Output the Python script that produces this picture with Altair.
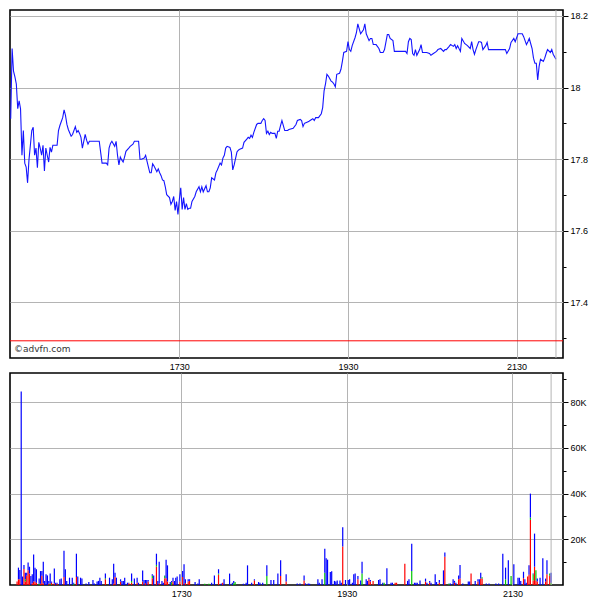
import altair as alt
import pandas as pd

# ---- price series (minutes after 15:30, price) ----
price_minute = [0,1,2,3,4,5,6,7,8,9,10,11,12,13,15,16,17,18,19,20,21,22,23,24,25,26,27,28,29,30,33,34,35,37,38,39,40,41,43,44,46,47,48,49,50,51,53,54,55,56,63,65,68,69,70,71,72,74,75,76,77,78,79,80,81,82,84,85,87,88,91,92,93,95,96,98,99,100,101,102,104,105,106,107,108,109,110,111,113,114,115,116,117,118,119,120,121,122,123,124,125,126,127,128,129,131,132,134,135,136,137,139,140,141,142,143,145,146,147,149,150,151,152,153,154,156,157,158,159,161,162,163,165,166,168,169,170,171,172,173,175,176,178,179,180,181,182,183,184,185,186,188,189,190,191,192,193,195,197,198,201,203,204,206,207,208,209,210,212,213,215,216,217,219,221,222,223,224,225,226,228,229,230,231,232,234,235,236,237,239,240,241,242,243,245,246,247,248,249,251,252,253,255,256,257,258,260,262,263,265,266,268,269,270,272,273,281,282,283,284,285,286,287,288,289,291,292,293,296,298,299,300,303,304,306,308,309,310,312,313,315,316,317,318,320,321,323,325,327,328,329,330,331,333,334,335,336,338,339,340,352,353,355,356,358,359,361,364,365,367,368,369,371,372,373,374,375,376,377,379,380,381,382,384,385,386,388]
price_value = [17.913,18.109,18.046,18.030,18.010,17.941,17.963,17.941,17.811,17.880,17.789,17.778,17.734,17.798,17.880,17.889,17.811,17.831,17.776,17.847,17.831,17.811,17.839,17.767,17.831,17.811,17.792,17.833,17.820,17.839,17.839,17.880,17.894,17.916,17.938,17.922,17.897,17.883,17.864,17.869,17.891,17.875,17.880,17.872,17.861,17.831,17.869,17.853,17.842,17.850,17.850,17.789,17.789,17.784,17.831,17.844,17.850,17.836,17.850,17.811,17.784,17.806,17.798,17.792,17.806,17.822,17.831,17.836,17.842,17.850,17.850,17.800,17.800,17.803,17.811,17.778,17.762,17.762,17.787,17.781,17.765,17.773,17.762,17.754,17.742,17.740,17.723,17.701,17.693,17.674,17.682,17.696,17.657,17.682,17.646,17.687,17.720,17.660,17.693,17.660,17.676,17.660,17.663,17.663,17.682,17.696,17.709,17.723,17.709,17.723,17.709,17.726,17.709,17.709,17.720,17.748,17.742,17.762,17.770,17.789,17.784,17.803,17.811,17.831,17.836,17.833,17.820,17.770,17.784,17.820,17.825,17.828,17.831,17.847,17.856,17.861,17.858,17.867,17.861,17.875,17.897,17.900,17.900,17.908,17.913,17.908,17.872,17.878,17.869,17.875,17.872,17.872,17.858,17.878,17.878,17.894,17.908,17.880,17.880,17.883,17.886,17.897,17.908,17.911,17.908,17.891,17.900,17.902,17.905,17.908,17.913,17.908,17.916,17.916,17.927,17.944,17.991,18.010,18.037,18.032,18.018,18.015,18.010,18.002,18.037,18.040,18.051,18.073,18.098,18.101,18.128,18.106,18.101,18.117,18.139,18.153,18.178,18.164,18.150,18.161,18.178,18.150,18.131,18.137,18.137,18.120,18.120,18.109,18.098,18.098,18.106,18.148,18.148,18.137,18.131,18.101,18.101,18.095,18.128,18.137,18.134,18.095,18.090,18.106,18.090,18.106,18.120,18.098,18.098,18.095,18.090,18.093,18.101,18.106,18.109,18.101,18.106,18.106,18.115,18.120,18.115,18.120,18.109,18.117,18.101,18.137,18.123,18.117,18.109,18.128,18.106,18.093,18.106,18.128,18.128,18.126,18.106,18.117,18.126,18.106,18.106,18.095,18.109,18.126,18.137,18.128,18.150,18.150,18.142,18.120,18.128,18.137,18.109,18.082,18.068,18.068,18.021,18.059,18.079,18.073,18.082,18.095,18.106,18.098,18.106,18.093,18.079]

prev_close = [17.293]
session_end_minute = [388]

# ---- volume bars (minutes after 15:30): total, sell (red), unknown (green) ----
vol_minute = [1,2,3,4,5,6,7,8,9,10,11,12,13,14,15,17,18,19,20,21,22,23,24,25,26,28,29,30,32,33,35,36,37,39,41,42,44,45,47,48,51,53,56,57,59,60,61,62,65,68,70,71,72,73,76,77,78,79,81,82,84,86,88,89,92,93,94,95,96,99,100,102,103,104,106,107,108,109,110,112,113,114,115,116,117,119,121,122,123,125,126,130,132,133,137,140,142,144,147,149,150,151,155,157,158,159,165,167,168,171,173,176,177,179,182,185,187,190,192,196,204,206,209,210,212,213,219,220,222,224,225,226,228,229,231,232,233,235,236,237,239,241,242,244,245,246,248,250,251,254,255,256,257,259,263,264,266,267,269,272,273,275,276,282,284,285,287,289,290,291,293,297,298,300,301,304,305,307,310,311,314,315,317,318,319,321,322,324,328,329,330,333,335,336,337,338,341,343,348,350,353,355,357,359,361,364,365,366,368,369,370,371,372,373,375,376,377,378,380,382,384,385,387,388]
vol_total = [1500,7600,6600,84700,3700,8800,5400,5400,9800,8000,3900,4700,13400,7600,6900,2900,6100,6100,10200,1800,4700,4200,1800,5000,1500,7200,1000,1000,2500,2800,15000,6900,1800,3200,3200,1000,13700,3700,3200,2800,700,1300,2200,700,1500,1800,3200,1800,5000,3200,2500,9300,5400,3200,2500,1800,1800,3200,1000,1000,5000,2900,3200,1000,6300,2200,2200,2200,2200,4700,4200,13700,1800,10200,1800,1000,4200,11100,8600,1300,1800,3200,1800,3200,3700,4700,6100,9100,2500,2500,2500,1300,700,2500,600,600,1000,4200,6900,700,1000,2500,5000,1000,1800,1300,600,1000,8600,1000,2500,1300,1000,1000,8600,2200,2200,5000,10800,4700,700,700,4200,700,700,600,2500,1000,2500,15900,11700,11100,5700,6000,1800,1500,2000,2000,1000,25300,2200,2200,2500,1000,4700,5000,3900,2000,10200,2500,1800,3200,2200,1800,2200,2500,1000,1000,7300,1000,1000,1000,1000,9300,1800,2500,18100,1000,1000,1000,2000,2800,1000,1800,1000,4700,1300,2200,6400,14200,700,700,2500,1800,1000,4200,8800,700,1500,1500,5000,1800,2500,2500,5400,2900,700,700,700,700,13700,7600,10800,600,9100,3200,3200,1800,5800,2500,1000,3700,8600,40000,5000,22500,3700,2800,3200,11700,2800,10800,5000,5400]
vol_red = [1500,2500,2500,0,0,7000,1500,4000,6500,5000,0,800,1500,1500,1000,0,500,4000,800,0,0,0,500,0,1000,700,0,500,0,0,3500,0,0,0,0,0,3500,0,0,0,0,0,0,0,0,0,0,0,2500,0,0,500,3500,0,1500,0,0,0,0,800,1000,0,1000,0,1500,0,800,0,1500,3000,0,8000,0,700,0,0,3000,3000,1500,0,0,1500,0,0,0,1500,3500,0,800,1500,1800,0,0,0,0,0,0,0,4500,0,1000,0,0,0,0,0,0,0,0,0,2000,0,0,0,0,0,0,0,3900,1500,0,0,2000,0,0,0,0,0,0,0,0,0,0,0,0,0,0,0,0,16800,0,0,0,0,0,0,2500,0,0,0,0,2500,1500,1800,0,0,0,0,0,0,0,1000,1000,9300,0,0,0,0,0,0,0,1500,0,1000,0,0,0,1000,0,12400,0,0,0,1000,0,2500,2800,0,0,0,5000,0,1500,0,2900,2900,0,0,0,0,0,0,0,0,0,0,0,0,3000,0,0,3700,4500,28500,2000,8000,2000,1500,0,0,1500,4700,4000,0]
vol_green = [0,0,0,0,0,0,1000,0,0,0,0,0,0,0,0,500,0,0,0,0,0,0,0,500,0,0,0,0,0,0,0,0,0,0,0,600,0,0,0,0,0,0,0,0,0,0,0,0,500,0,0,0,0,0,0,0,0,0,0,0,800,0,0,0,0,0,0,0,0,1000,0,800,0,0,0,0,1000,0,0,0,1200,0,0,0,0,0,0,0,0,0,0,0,0,0,600,600,0,0,500,0,0,0,0,0,800,1300,0,0,0,0,0,0,0,0,3900,0,0,0,0,0,0,0,0,0,0,0,0,0,0,5400,0,0,0,0,0,0,0,0,0,0,0,0,0,0,0,0,0,0,5000,0,0,0,0,0,0,0,0,1000,0,0,0,0,0,0,0,0,6100,0,0,0,0,0,0,0,0,0,0,0,0,0,500,0,0,0,0,0,0,0,0,0,0,0,0,0,0,500,0,0,0,0,0,2500,0,3900,0,0,0,0,0,0,0,0,0,1000,2700,0,4500,0,0,0,0,0,1000,1000,0]

# ---- axes ----
time_tick_minutes = [120, 240, 360]
time_tick_labels = ["1730", "1930", "2130"]
price_ticks = [17.3, 17.4, 17.5, 17.6, 17.7, 17.8, 17.9, 18.0, 18.1, 18.2]   # labelled every 0.2
vol_ticks = [10000, 20000, 30000, 40000, 50000, 60000, 70000, 80000, 90000]  # labelled every 20K

X_DOMAIN = [-0.5, 393]
PRICE_DOMAIN = [17.245, 18.2165]
VOL_DOMAIN = [0, 92800]
W = 553
GRID = "#b4b4b4"

time_expr = "''"
for m, lab in zip(reversed(time_tick_minutes), reversed(time_tick_labels)):
    time_expr = f"datum.value == {m} ? '{lab}' : ({time_expr})"

price_test = "round(datum.value * 10) % 2 == 0"
vol_test = "round(datum.value / 10000) % 2 == 0"

price_df = pd.DataFrame({"minute": price_minute, "price": price_value})

rows = []
for m, t, r, g in zip(vol_minute, vol_total, vol_red, vol_green):
    b = t - r - g
    for part, v, o in (("sell", r, 0), ("unknown", g, 1), ("buy", b, 2)):
        if v > 0:
            rows.append({"minute": m, "part": part, "vol": v, "ord": o})
vol_df = pd.DataFrame(rows)

x_axis = alt.Axis(values=time_tick_minutes, labelExpr=time_expr, grid=True,
                  gridColor=GRID, ticks=False, domain=False, labelPadding=4,
                  title=None, labelFontSize=9, labelAngle=0)

xs = alt.Scale(domain=X_DOMAIN, nice=False, zero=False)
ys_price = alt.Scale(domain=PRICE_DOMAIN, nice=False, zero=False)

price_axis = alt.Axis(
    orient="right", values=price_ticks, title=None,
    labelExpr=f"{price_test} ? toString(round(datum.value * 10) / 10) : ''",
    tickSize={"condition": {"test": price_test, "value": 5}, "value": 3},
    gridOpacity={"condition": {"test": price_test, "value": 1}, "value": 0},
    grid=True, gridColor=GRID, domain=False, labelPadding=2, labelFontSize=9,
    labelOverlap=False,
)

line = alt.Chart(price_df).mark_line(color="#1414ff", strokeWidth=1.1, clip=True).encode(
    x=alt.X("minute:Q", scale=xs, axis=x_axis),
    y=alt.Y("price:Q", scale=ys_price, axis=price_axis),
)

close_rule = alt.Chart(pd.DataFrame({"close": prev_close})).mark_rule(color="#ff0000", strokeWidth=1).encode(
    y=alt.Y("close:Q", scale=ys_price, axis=price_axis)
)

end_rule_top = alt.Chart(pd.DataFrame({"m": session_end_minute})).mark_rule(color=GRID, strokeWidth=1).encode(
    x=alt.X("m:Q", scale=xs, axis=x_axis)
)

watermark = alt.Chart(pd.DataFrame({"t": ["©advfn.com"]})).mark_text(
    align="left", baseline="bottom", font="DejaVu Sans", fontSize=9, color="#333333"
).encode(x=alt.value(4), y=alt.value(344), text="t:N")

top = alt.layer(line, end_rule_top, close_rule, watermark).properties(width=W, height=348)

vol_axis = alt.Axis(
    orient="right", values=vol_ticks, title=None,
    labelExpr=f"{vol_test} ? (datum.value / 1000) + 'K' : ''",
    tickSize={"condition": {"test": vol_test, "value": 5}, "value": 3},
    gridOpacity={"condition": {"test": vol_test, "value": 1}, "value": 0},
    grid=True, gridColor=GRID, domain=False, labelPadding=2, labelFontSize=9,
    labelOverlap=False,
)

bars = alt.Chart(vol_df).mark_bar(size=1.2, clip=True).encode(
    x=alt.X("minute:Q", scale=xs, axis=x_axis),
    y=alt.Y("sum(vol):Q", stack="zero", scale=alt.Scale(domain=VOL_DOMAIN, nice=False), axis=vol_axis),
    color=alt.Color("part:N", scale=alt.Scale(domain=["sell", "unknown", "buy"],
                                              range=["#ff0000", "#00c800", "#0000ff"]), legend=None),
    order=alt.Order("ord:Q", sort="ascending"),
)

end_rule_bot = alt.Chart(pd.DataFrame({"m": session_end_minute})).mark_rule(color=GRID, strokeWidth=1).encode(
    x=alt.X("m:Q", scale=xs, axis=x_axis)
)

bottom = alt.layer(bars, end_rule_bot).properties(width=W, height=212)

chart = alt.vconcat(top, bottom, spacing=15, bounds="flush").properties(
    padding=0, background="white"
).configure_view(
    stroke="#000000", strokeWidth=1.6
).configure_axis(
    labelFont="Liberation Sans", labelColor="#000000", tickColor="#000000"
)

chart.save("out.html", embed_options={"renderer": "svg", "actions": False})
